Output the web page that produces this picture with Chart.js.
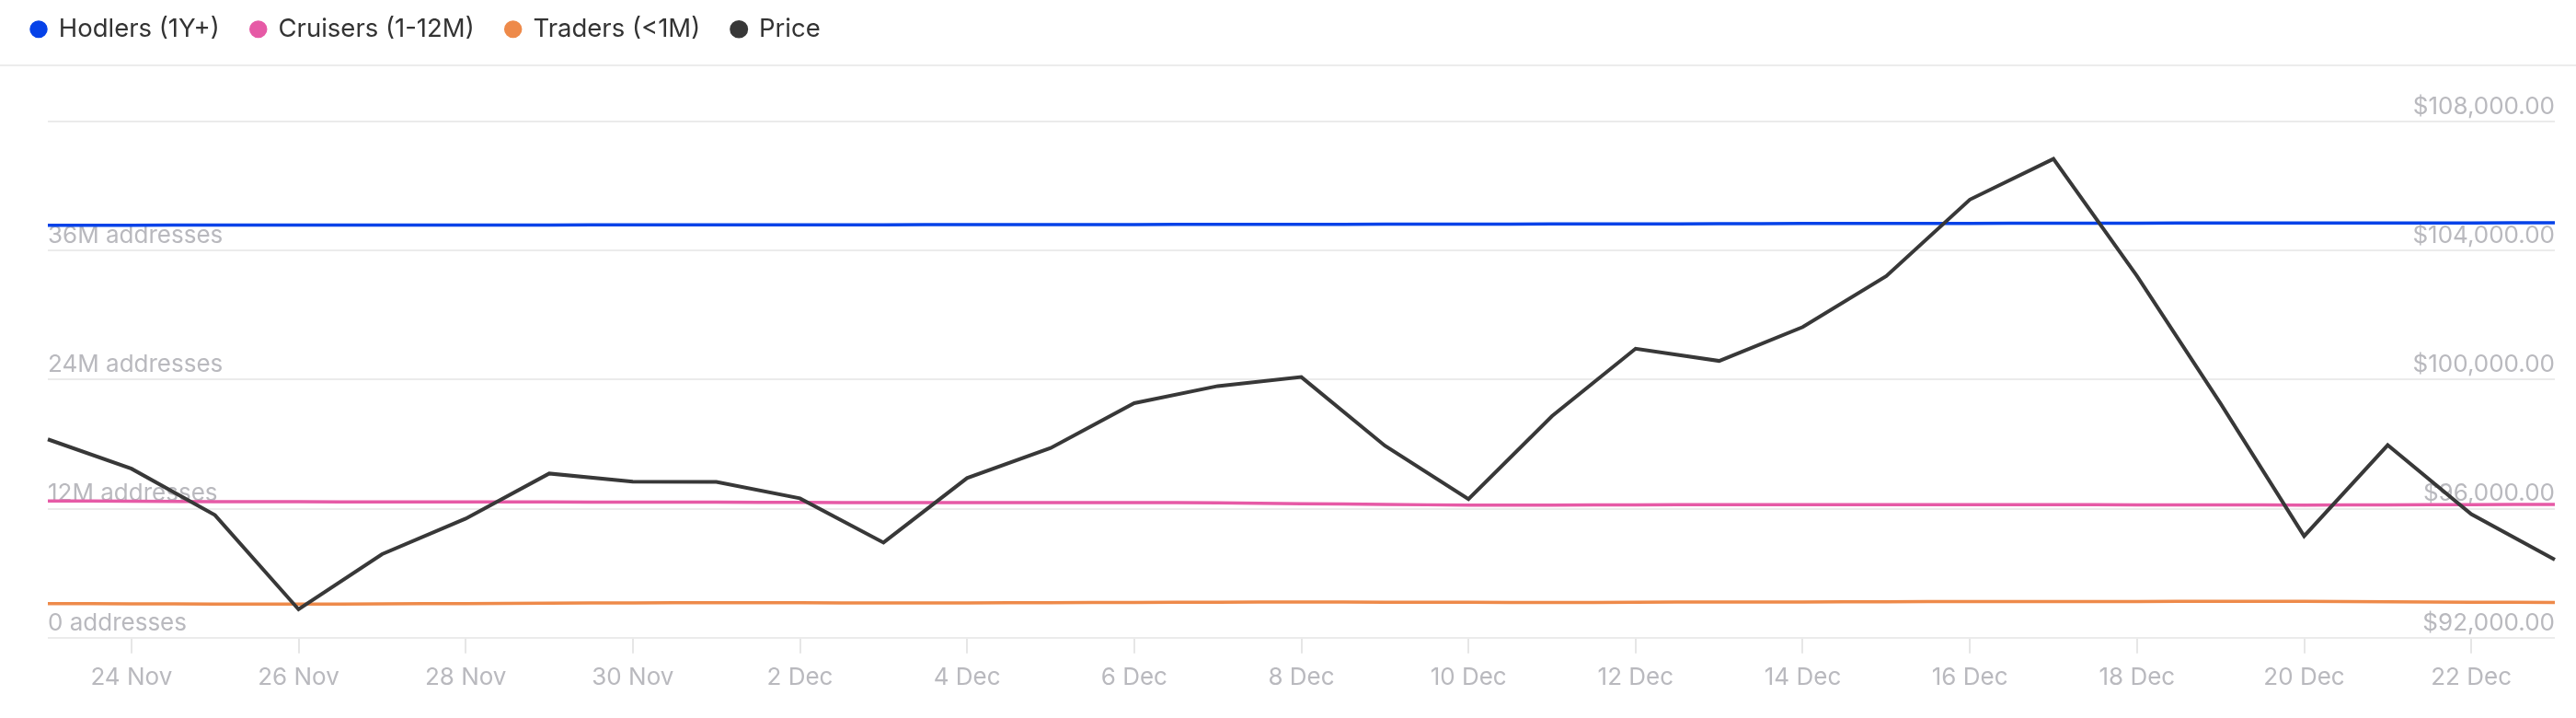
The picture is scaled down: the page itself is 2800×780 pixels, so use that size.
<!DOCTYPE html>
<html>
<head>
<meta charset="utf-8">
<title>Holders by time held vs price</title>
<script src="https://cdn.jsdelivr.net/npm/chart.js@4.4.1/dist/chart.umd.min.js"></script>
<style>
  html, body { margin: 0; padding: 0; background: #fff; }
  canvas { display: block; }
</style>
</head>
<body>
<canvas id="holdersChart" width="2800" height="780"></canvas>
<script>
const days = [
  "23 Nov", "24 Nov", "25 Nov", "26 Nov", "27 Nov", "28 Nov", "29 Nov", "30 Nov",
  "1 Dec", "2 Dec", "3 Dec", "4 Dec", "5 Dec", "6 Dec", "7 Dec", "8 Dec",
  "9 Dec", "10 Dec", "11 Dec", "12 Dec", "13 Dec", "14 Dec", "15 Dec", "16 Dec",
  "17 Dec", "18 Dec", "19 Dec", "20 Dec", "21 Dec", "22 Dec", "23 Dec"
];

// addresses, millions
const hodlers = [
  38.36, 38.36, 38.37, 38.37, 38.37, 38.38, 38.38, 38.39, 38.39, 38.40, 38.40,
  38.41, 38.41, 38.42, 38.43, 38.44, 38.45, 38.46, 38.47, 38.48, 38.49, 38.51,
  38.52, 38.53, 38.54, 38.55, 38.56, 38.56, 38.57, 38.57, 38.58
];
const cruisers = [
  12.72, 12.70, 12.66, 12.64, 12.63, 12.63, 12.62, 12.61, 12.60, 12.58, 12.57,
  12.56, 12.56, 12.56, 12.54, 12.46, 12.40, 12.33, 12.33, 12.36, 12.37, 12.38,
  12.38, 12.38, 12.37, 12.36, 12.35, 12.34, 12.36, 12.38, 12.40
];
const traders = [
  3.18, 3.16, 3.13, 3.12, 3.15, 3.18, 3.22, 3.24, 3.26, 3.25, 3.23,
  3.24, 3.26, 3.28, 3.30, 3.32, 3.31, 3.29, 3.28, 3.30, 3.32, 3.33,
  3.35, 3.36, 3.37, 3.37, 3.38, 3.38, 3.35, 3.31, 3.28
];
// USD
const price = [
  98150, 97240, 95800, 92880, 94590, 95690, 97090, 96840, 96830, 96320, 94950,
  96950, 97880, 99270, 99800, 100080, 97950, 96300, 98870, 100960, 100580, 101630,
  103210, 105580, 106840, 103210, 99260, 95150, 97970, 95830, 94420
];

const addrMin = 0, addrMax = 48, addrStep = 12;
const priceMin = 92000, priceMax = 108000, priceStep = 4000;

const tickGrey = "#b9b9be";
const gridGrey = "#ebebeb";

Chart.defaults.font.family = "Inter, 'Noto Sans', sans-serif";

// thin rule under the legend, full width
const legendRule = {
  id: "legendRule",
  afterDraw(chart) {
    const ctx = chart.ctx;
    ctx.save();
    ctx.strokeStyle = "#ececec";
    ctx.lineWidth = 2;
    ctx.beginPath();
    ctx.moveTo(0, 71);
    ctx.lineTo(chart.width, 71);
    ctx.stroke();
    ctx.restore();
  }
};

// make room between legend and plot
const legendHeight = {
  id: "legendHeight",
  beforeInit(chart) {
    const fit = chart.legend.fit;
    chart.legend.fit = function () {
      fit.call(this);
      this.height = 148;
    };
  }
};

const line = (label, data, color, axis, extra) => Object.assign({
  label: label,
  data: data,
  yAxisID: axis,
  borderColor: color,
  backgroundColor: color,
  borderWidth: 3.5,
  pointRadius: 0,
  pointHoverRadius: 0,
  order: 1
}, extra || {});

new Chart(document.getElementById("holdersChart"), {
  type: "line",
  data: {
    labels: days,
    datasets: [
      line("Hodlers (1Y+)", hodlers, "#0642e8", "addr", { tension: 0.3 }),
      line("Cruisers (1-12M)", cruisers, "#e65aa6", "addr", { tension: 0.3 }),
      line("Traders (<1M)", traders, "#ee8a4a", "addr", { tension: 0.3 }),
      line("Price", price, "#383838", "usd", { tension: 0, order: 0, borderWidth: 4 })
    ]
  },
  options: {
    responsive: false,
    animation: false,
    devicePixelRatio: 1,
    layout: { padding: { top: -16, left: 0, right: 0, bottom: 17 } },
    plugins: {
      tooltip: { enabled: false },
      legend: {
        position: "top",
        align: "start",
        labels: {
          usePointStyle: true,
          pointStyle: "circle",
          boxHeight: 11,
          pointStyleWidth: 16,
          padding: 34,
          color: "#333333",
          font: { size: 27.5 },
          sort: (a, b) => a.datasetIndex - b.datasetIndex
        }
      }
    },
    scales: {
      x: {
        offset: false,
        grid: {
          drawOnChartArea: false,
          drawTicks: true,
          tickLength: 17,
          color: "#e6e6e6",
          lineWidth: 2
        },
        border: { display: false },
        ticks: {
          autoSkip: false,
          maxRotation: 0,
          padding: 11,
          color: tickGrey,
          font: { size: 26 },
          callback: (v, i) => (i % 2 === 1 ? days[i] : null)
        }
      },
      addr: {
        position: "left",
        min: addrMin,
        max: addrMax,
        grid: { display: false },
        border: { display: false },
        afterFit: (s) => { s.width = 52; },
        ticks: {
          stepSize: addrStep,
          mirror: true,
          padding: 0,
          labelOffset: -16,
          color: tickGrey,
          font: { size: 26 },
          callback: (v) => (v >= addrMax ? "" : v + (v === 0 ? " addresses" : "M addresses"))
        }
      },
      usd: {
        position: "right",
        min: priceMin,
        max: priceMax,
        grid: { color: gridGrey, lineWidth: 2, drawTicks: false },
        border: { display: false },
        afterFit: (s) => { s.width = 23; },
        ticks: {
          stepSize: priceStep,
          mirror: true,
          padding: 0,
          labelOffset: -16,
          color: tickGrey,
          font: { size: 26 },
          callback: (v) => "$" + v.toLocaleString("en-US", { minimumFractionDigits: 2, maximumFractionDigits: 2 })
        }
      }
    }
  },
  plugins: [legendRule, legendHeight]
});
</script>
</body>
</html>
